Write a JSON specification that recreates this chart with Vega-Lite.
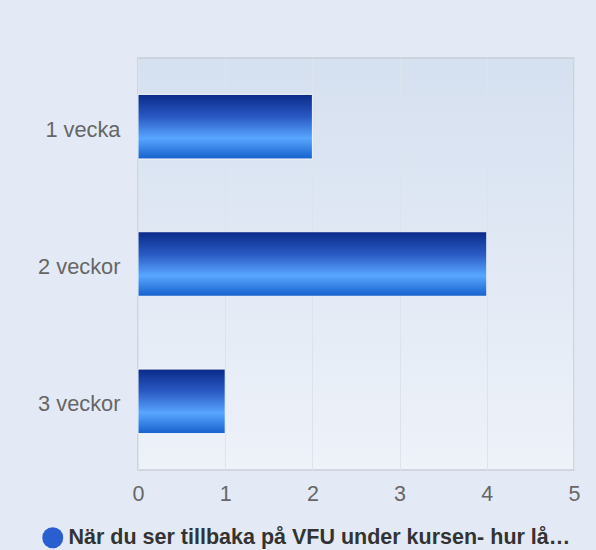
{
  "$schema": "https://vega.github.io/schema/vega-lite/v6.json",
  "width": 436,
  "height": 412,
  "autosize": {"type": "none"},
  "padding": {"left": 138, "top": 58, "right": 22, "bottom": 80},
  "background": "#e3eaf5",
  "data": {
    "values": [
      {"answer": "1 vecka", "count": 2, "series": "När du ser tillbaka på VFU under kursen- hur lå…"},
      {"answer": "2 veckor", "count": 4, "series": "När du ser tillbaka på VFU under kursen- hur lå…"},
      {"answer": "3 veckor", "count": 1, "series": "När du ser tillbaka på VFU under kursen- hur lå…"}
    ]
  },
  "encoding": {
    "y": {
      "field": "answer",
      "type": "nominal",
      "sort": null,
      "scale": {"paddingInner": 0.53, "paddingOuter": 0.265},
      "axis": {
        "title": null,
        "grid": false,
        "domain": false,
        "ticks": false,
        "labelPadding": 18,
        "labelOffset": 3,
        "labelFontSize": 21.8,
        "labelColor": "#666666",
        "labelFont": "Liberation Sans"
      }
    },
    "x": {
      "field": "count",
      "type": "quantitative",
      "scale": {"domain": [0, 5], "nice": false},
      "axis": {
        "title": null,
        "values": [0, 1, 2, 3, 4, 5],
        "grid": true,
        "gridColor": "#dde3ec",
        "gridWidth": 1,
        "domain": false,
        "ticks": false,
        "labelFlush": false,
        "labelPadding": 13,
        "labelFontSize": 21.5,
        "labelColor": "#666666",
        "labelFont": "Liberation Sans"
      }
    }
  },
  "layer": [
    {
      "mark": {
        "type": "bar",
        "stroke": "#f2f5fb",
        "strokeWidth": 1,
        "color": {
          "gradient": "linear",
          "x1": 0, "y1": 0, "x2": 0, "y2": 1,
          "stops": [
            {"offset": 0, "color": "#0a2a88"},
            {"offset": 0.35, "color": "#2a5ac4"},
            {"offset": 0.68, "color": "#58a6ff"},
            {"offset": 1, "color": "#1660cc"}
          ]
        }
      }
    },
    {
      "mark": {"type": "bar", "opacity": 0},
      "encoding": {
        "color": {
          "field": "series",
          "type": "nominal",
          "scale": {"range": ["#2a5fd0"]},
          "legend": {
            "title": null,
            "orient": "none",
            "legendX": -96,
            "legendY": 469,
            "padding": 0,
            "symbolType": "circle",
            "symbolSize": 441,
            "symbolStrokeWidth": 0,
            "symbolOpacity": 1,
            "labelOffset": 5,
            "labelFontSize": 21.5,
            "labelFontWeight": "bold",
            "labelColor": "#333333",
            "labelFont": "Liberation Sans",
            "labelLimit": 1000
          }
        }
      }
    }
  ],
  "config": {
    "font": "Liberation Sans",
    "view": {
      "fill": {
        "gradient": "linear",
        "x1": 0, "y1": 0, "x2": 0, "y2": 1,
        "stops": [
          {"offset": 0, "color": "#d5e0f0"},
          {"offset": 1, "color": "#eef2f9"}
        ]
      },
      "stroke": "#c9ced6",
      "strokeWidth": 1.5
    }
  }
}
